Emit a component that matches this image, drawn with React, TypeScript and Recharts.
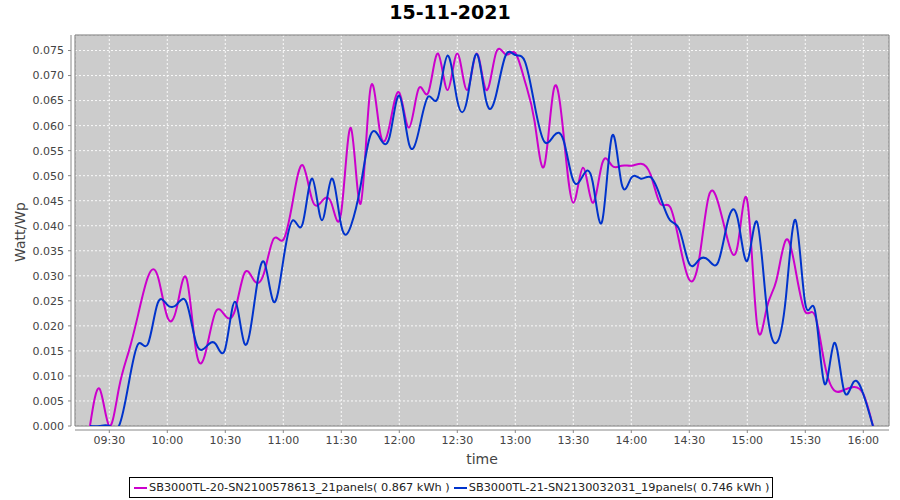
import { LineChart, Line, XAxis, YAxis, CartesianGrid, ReferenceArea } from "recharts";

// 5-minute samples, 09:20 .. 16:05
const times = [
  "09:20", "09:25", "09:30", "09:35", "09:40", "09:45", "09:50", "09:55",
  "10:00", "10:05", "10:10", "10:15", "10:20", "10:25", "10:30", "10:35",
  "10:40", "10:45", "10:50", "10:55", "11:00", "11:05", "11:10", "11:15",
  "11:20", "11:25", "11:30", "11:35", "11:40", "11:45", "11:50", "11:55",
  "12:00", "12:05", "12:10", "12:15", "12:20", "12:25", "12:30", "12:35",
  "12:40", "12:45", "12:50", "12:55", "13:00", "13:05", "13:10", "13:15",
  "13:20", "13:25", "13:30", "13:35", "13:40", "13:45", "13:50", "13:55",
  "14:00", "14:05", "14:10", "14:15", "14:20", "14:25", "14:30", "14:35",
  "14:40", "14:45", "14:50", "14:55", "15:00", "15:05", "15:10", "15:15",
  "15:20", "15:25", "15:30", "15:35", "15:40", "15:45", "15:50", "15:55",
  "16:00", "16:05",
];

const sb20 = [
  0, 0.0074, 0, 0.0076, 0.0148, 0.0224, 0.0298, 0.03,
  0.0218, 0.0238, 0.0294, 0.0148, 0.015, 0.0228, 0.022, 0.0231,
  0.0306, 0.029, 0.0305, 0.0374, 0.0372, 0.0451, 0.0521, 0.0451,
  0.0449, 0.0444, 0.0428, 0.0595, 0.0444, 0.0672, 0.0588, 0.0601,
  0.0666, 0.0596, 0.0674, 0.0666, 0.0744, 0.0671, 0.0744, 0.0671,
  0.0744, 0.0671, 0.0745, 0.0742, 0.0745, 0.0688, 0.0608, 0.052,
  0.0674, 0.0581, 0.0446, 0.0516, 0.0446, 0.0525, 0.052, 0.052,
  0.052, 0.0524, 0.0502, 0.0444, 0.0438, 0.0364, 0.0292, 0.0331,
  0.0458, 0.0445, 0.037, 0.036, 0.045, 0.0204, 0.0235, 0.029,
  0.0372, 0.0311, 0.0228, 0.0221, 0.0124, 0.0071, 0.0072, 0.0078,
  0.0064, 0,
];

const sb21 = [
  0, 0, 0, 0, 0.0084, 0.0164, 0.0164, 0.0245,
  0.0242, 0.0243, 0.0246, 0.0165, 0.0158, 0.0164, 0.0155, 0.0248,
  0.0164, 0.0245, 0.0328, 0.0248, 0.0331, 0.0411, 0.0404, 0.0494,
  0.0411, 0.0494, 0.04, 0.04, 0.048, 0.058, 0.0575, 0.0578,
  0.066, 0.0564, 0.0588, 0.0658, 0.0656, 0.074, 0.065, 0.065,
  0.0743, 0.0648, 0.066, 0.074, 0.0741, 0.0728, 0.0641, 0.0568,
  0.058, 0.057, 0.049, 0.05, 0.0488, 0.041, 0.0579, 0.0484,
  0.0496, 0.0494, 0.0497, 0.0458, 0.0411, 0.0391, 0.0324, 0.0332,
  0.0331, 0.0328, 0.041, 0.0415, 0.033, 0.0408, 0.0238, 0.0166,
  0.0258, 0.0411, 0.0244, 0.0231, 0.0084, 0.0166, 0.0071, 0.0088,
  0.0064, 0,
];

const xTicks = [570, 600, 630, 660, 690, 720, 750, 780, 810, 840, 870, 900, 930, 960];
const yTicks = [0, 0.005, 0.01, 0.015, 0.02, 0.025, 0.03, 0.035, 0.04, 0.045, 0.05, 0.055, 0.06, 0.065, 0.07, 0.075];

const toMin = (s: string) => {
  const [h, m] = s.split(":").map(Number);
  return h * 60 + m;
};
const fmtTime = (v: number) => {
  const h = Math.floor(v / 60);
  const m = v % 60;
  return `${String(h).padStart(2, "0")}:${String(m).padStart(2, "0")}`;
};

const data = times.map((t, i) => ({ t: toMin(t), a: sb20[i], b: sb21[i] }));

const X_MIN = 552.26;
const X_MAX = 973.3;
const Y_MAX = 0.0781;

const font = "'DejaVu Sans', sans-serif";
const axisColor = "#888888";
const tickStyle = { fill: "#444444", fontSize: 11, fontFamily: font };

const swatch = (color: string) => (
  <span style={{ display: "inline-block", flexShrink: 0, width: 13, height: 2, background: color, marginLeft: 4, marginRight: 2 }} />
);

export default function App() {
  return (
    <div style={{ position: "absolute", left: 0, top: 0, width: 900, height: 500, background: "#fff", fontFamily: font }}>
      <div style={{ position: "absolute", left: 0, top: 1, width: 900, textAlign: "center", fontSize: 19, fontWeight: "bold", color: "#000" }}>
        15-11-2021
      </div>
      <LineChart width={900} height={500} data={data} margin={{ top: 35, right: 11, bottom: 0, left: 0 }}>
        <CartesianGrid fill="#cccccc" stroke="#ffffff" strokeDasharray="2 2" strokeOpacity={0.9} />
        <XAxis
          dataKey="t"
          type="number"
          domain={[X_MIN, X_MAX]}
          ticks={xTicks}
          tickFormatter={fmtTime}
          allowDataOverflow
          height={74}
          tickSize={3}
          tickMargin={7}
          axisLine={{ stroke: axisColor, transform: "translate(0,4)" }}
          tickLine={{ stroke: axisColor, transform: "translate(0,4)" }}
          tick={tickStyle}
        />
        <YAxis
          type="number"
          domain={[0, Y_MAX]}
          ticks={yTicks}
          tickFormatter={(v: number) => v.toFixed(3)}
          allowDataOverflow
          width={75}
          tickSize={3}
          tickMargin={8}
          axisLine={{ stroke: axisColor, transform: "translate(-4,0)" }}
          tickLine={{ stroke: axisColor, transform: "translate(-4,0)" }}
          tick={tickStyle}
        />
        <Line type="natural" dataKey="a" stroke="#cc00cc" strokeWidth={2} dot={false} isAnimationActive={false} />
        <Line type="natural" dataKey="b" stroke="#0033cc" strokeWidth={2} dot={false} isAnimationActive={false} />
        <ReferenceArea x1={X_MIN} x2={X_MAX} y1={0} y2={Y_MAX} fill="none" stroke="#777777" strokeWidth={1} />
      </LineChart>
      <div style={{ position: "absolute", left: 5, top: 202, width: 30, height: 60, display: "flex", alignItems: "center", justifyContent: "center" }}>
        <div style={{ transform: "rotate(-90deg)", whiteSpace: "nowrap", fontSize: 14, color: "#444" }}>Watt/Wp</div>
      </div>
      <div style={{ position: "absolute", left: 75, top: 451, width: 814, textAlign: "center", fontSize: 14, color: "#444" }}>time</div>
      <div
        style={{
          position: "absolute", left: 129, top: 477, width: 644, height: 21, boxSizing: "border-box",
          border: "1px solid #000", display: "flex", alignItems: "center", fontSize: 11.3, color: "#222", whiteSpace: "nowrap",
        }}
      >
        {swatch("#cc00cc")}
        <span>SB3000TL-20-SN2100578613_21panels( 0.867 kWh )</span>
        {swatch("#0033cc")}
        <span>SB3000TL-21-SN2130032031_19panels( 0.746 kWh )</span>
      </div>
    </div>
  );
}
